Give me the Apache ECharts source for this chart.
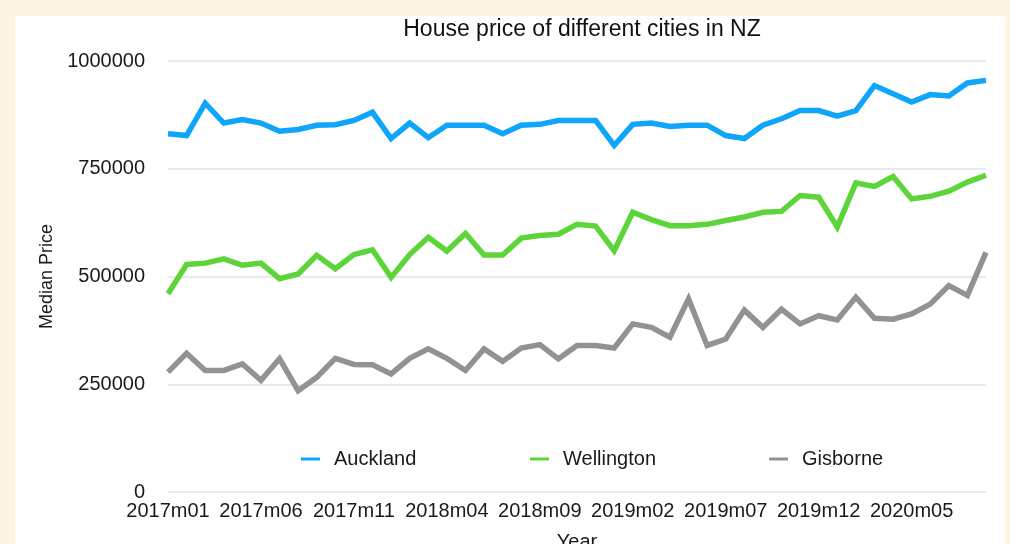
<!DOCTYPE html>
<html>
<head>
<meta charset="utf-8">
<script src="https://cdn.jsdelivr.net/npm/echarts@6/dist/echarts.min.js"></script>
<style>
  html, body { margin: 0; padding: 0; background: #fdf4e3; }
  #chart { width: 1010px; height: 544px; }
</style>
</head>
<body>
<div id="chart"></div>
<script>
const months = [
  '2017m01', '2017m02', '2017m03', '2017m04', '2017m05', '2017m06', '2017m07', '2017m08', '2017m09', '2017m10', '2017m11', '2017m12',
  '2018m01', '2018m02', '2018m03', '2018m04', '2018m05', '2018m06', '2018m07', '2018m08', '2018m09', '2018m10', '2018m11', '2018m12',
  '2019m01', '2019m02', '2019m03', '2019m04', '2019m05', '2019m06', '2019m07', '2019m08', '2019m09', '2019m10', '2019m11', '2019m12',
  '2020m01', '2020m02', '2020m03', '2020m04', '2020m05', '2020m06', '2020m07', '2020m08', '2020m09'
]

// median prices, thousands
const auckland = [
  831, 827, 902, 856, 864, 856, 837, 841, 851, 852, 862, 881,
  820, 856, 822, 851, 851, 851, 831, 851, 853, 862, 862, 862,
  804, 853, 856, 848, 851, 851, 827, 820, 851, 866, 885, 885,
  872, 885, 943, 924, 905, 922, 919, 949, 955
]
const wellington = [
  460, 528, 531, 541, 526, 531, 495, 506, 549, 518, 551, 562,
  498, 551, 591, 559, 600, 550, 550, 589, 595, 598, 621, 617,
  560, 649, 632, 618, 618, 621, 630, 638, 649, 651, 688, 684,
  615, 717, 709, 732, 680, 686, 698, 719, 735
]
const gisborne = [
  278, 322, 282, 282, 297, 259, 309, 235, 266, 310, 296, 295,
  274, 310, 332, 310, 282, 332, 303, 334, 342, 309, 340, 340,
  334, 390, 382, 359, 448, 340, 355, 422, 382, 424, 390, 409,
  399, 452, 403, 401, 413, 436, 479, 456, 556
]

const cities = ['Auckland', 'Wellington', 'Gisborne']
const colors = ['#0ea5fb', '#5dd43a', '#929292']
const yTicks = [0, 250000, 500000, 750000, 1000000]

const font = 'Liberation Sans, Helvetica, Arial, sans-serif'
const chart = echarts.init(document.getElementById('chart'))

const legendAt = (name, left) => ({
  data: [name],
  left: left,
  top: 449,
  padding: 0,
  icon: 'rect',
  itemWidth: 19,
  itemHeight: 3,
  textStyle: { fontFamily: font, fontSize: 20, color: '#1a1a1a', padding: [0, 0, 0, 9] },
})

const option = {
  backgroundColor: '#fdf4e3',
  animation: false,
  graphic: [{
    type: 'rect',
    z: -10,
    shape: { x: 15, y: 16, width: 990, height: 528 },
    style: { fill: '#ffffff' },
  }],
  title: {
    text: 'House price of different cities in NZ',
    left: 577,
    top: 13,
    textAlign: 'center',
    textStyle: { fontFamily: font, fontSize: 23, fontWeight: 'normal', color: '#111' },
  },
  legend: [legendAt('Auckland', 301), legendAt('Wellington', 530), legendAt('Gisborne', 769)],
  grid: { left: 168, right: 24, top: 61, bottom: 52, outerBoundsMode: 'none' },
  xAxis: {
    type: 'category',
    data: months,
    boundaryGap: false,
    name: 'Year',
    nameLocation: 'middle',
    nameGap: 40,
    nameTextStyle: { fontFamily: font, fontSize: 20, color: '#1a1a1a' },
    axisLine: { show: false },
    axisTick: { show: false },
    axisLabel: { interval: 4, margin: 9, fontFamily: font, fontSize: 20, color: '#1a1a1a' },
  },
  yAxis: {
    type: 'value',
    min: yTicks[0],
    max: yTicks[yTicks.length - 1],
    interval: yTicks[1] - yTicks[0],
    name: 'Median Price',
    nameLocation: 'middle',
    nameGap: 104,
    nameTextStyle: { fontFamily: font, fontSize: 18, color: '#1a1a1a' },
    axisLabel: { margin: 23, fontFamily: font, fontSize: 20, color: '#1a1a1a', formatter: (v) => String(v) },
    splitLine: { lineStyle: { color: '#e2e2e2', width: 1.5 } },
  },
  series: [auckland, wellington, gisborne].map((vals, i) => ({
    name: cities[i],
    type: 'line',
    data: vals.map((v) => v * 1000),
    symbol: 'none',
    lineStyle: { width: 5.5, color: colors[i], join: 'miter' },
    itemStyle: { color: colors[i] },
  })),
}

chart.setOption(option)
</script>
</body>
</html>
